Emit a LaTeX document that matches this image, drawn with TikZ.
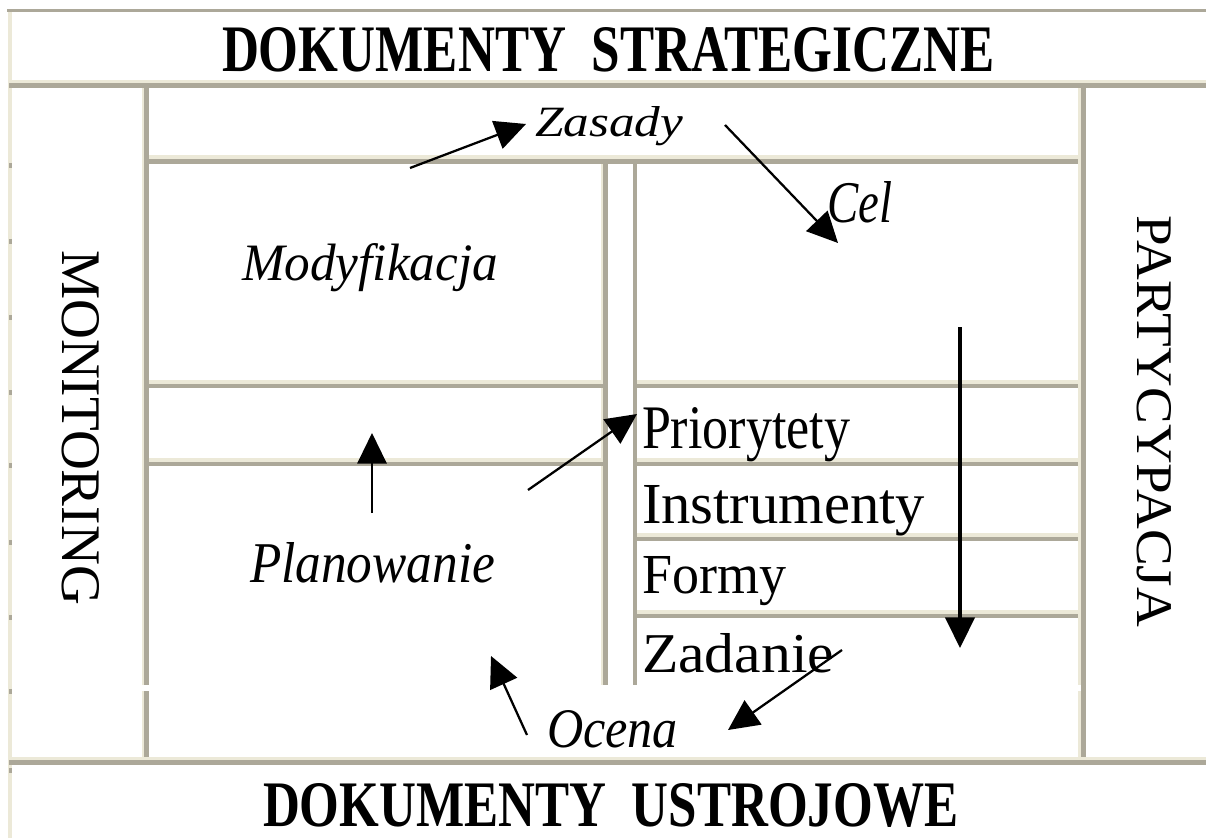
\documentclass[tikz,border=0pt]{standalone}
\usepackage{fontspec}
\setmainfont{Liberation Serif}
\usepackage{graphicx}
\usetikzlibrary{arrows.meta}
\newlength\pxu
\setlength\pxu{0.75pt}
\newcommand\fitt[3]{\resizebox{#1\pxu}{#2\pxu}{#3}}
\definecolor{bgrey}{HTML}{ACA899}
\definecolor{bcream}{HTML}{ECE9D8}
\tikzset{
  lbl/.style={anchor=base west, inner sep=0pt, outer sep=0pt},
  vlbl/.style={lbl, rotate=-90},
  arr/.style={-{Triangle[length=23pt,width=22pt]}, line width=1.7pt, black},
  varr/.style={arr, line width=2.6pt},
  gband/.style={fill=bgrey},
  cband/.style={fill=bcream}
}
\begin{document}
\begin{tikzpicture}[x=0.75pt,y=-0.75pt]
\fill[white] (0,0) rectangle (1206,838);
\useasboundingbox (0,0) rectangle (1206,838);
% outer left border
\fill[cband] (8,9) rectangle (12,838);
\foreach \yy in {163,239,315,390,463,540,615,689,768}{
  \fill[gband] (9,\yy) rectangle (12,\yy+5);
}
% top border
\fill[gband] (7,9) rectangle (1206,12);
% below header
\fill[cband] (9,80) rectangle (1206,83);
\fill[gband] (9,83) rectangle (1206,88);
% bottom separator
\fill[cband] (9,757) rectangle (1206,760);
\fill[gband] (9,760) rectangle (1206,765);
% inner left vertical
\fill[cband] (142,88) rectangle (143.5,685);
\fill[gband] (143.5,88) rectangle (149,685);
\fill[cband] (142,691) rectangle (143.5,757);
\fill[gband] (143.5,691) rectangle (149,757);
% inner right vertical
\fill[cband] (1078,88) rectangle (1081,685);
\fill[cband] (1078,691) rectangle (1081,757);
\fill[gband] (1081,88) rectangle (1086,757);
% below Zasady row
\fill[cband] (149,155) rectangle (1078,159);
\fill[gband] (149,159) rectangle (1078,164);
% middle column
\fill[cband] (601,164) rectangle (603,685);
\fill[gband] (603,164) rectangle (608,685);
\fill[gband] (633,164) rectangle (637,685);
% left rows
\fill[cband] (149,380) rectangle (603,384);
\fill[gband] (149,384) rectangle (603,388);
\fill[cband] (149,458) rectangle (603,462);
\fill[gband] (149,462) rectangle (603,466);
% right rows
\foreach \yy in {380,458,533,610}{
  \fill[cband] (637,\yy) rectangle (1078,\yy+4);
  \fill[gband] (637,\yy+4) rectangle (1078,\yy+8);
}
% headings
\node[lbl] (ds) at (222,72) {\fitt{773}{44}{\bfseries DOKUMENTY\ \ STRATEGICZNE}};
\node[lbl] (du) at (263,826) {\fitt{695}{43}{\bfseries DOKUMENTY\ \ USTROJOWE}};
\node[vlbl] (mon) at (62,250) {\fitt{355}{37}{MONITORING}};
\node[vlbl] (par) at (1137,215) {\fitt{412}{34}{PARTYCYPACJA}};
% italic labels
\node[lbl] (zas) at (535,137) {\fitt{148}{30}{\itshape Zasady}};
\node[lbl] (cel) at (827,223) {\fitt{65}{41}{\itshape Cel}};
\node[lbl] (mod) at (242,280) {\fitt{256}{37}{\itshape Modyfikacja}};
\node[lbl] (pla) at (250,582) {\fitt{245}{40}{\itshape Planowanie}};
\node[lbl] (oce) at (547,747) {\fitt{131}{37}{\itshape Ocena}};
% upright labels
\node[lbl] (pri) at (642,448) {\fitt{208}{41}{Priorytety}};
\node[lbl] (ins) at (642,523) {\fitt{283}{38}{Instrumenty}};
\node[lbl] (for) at (642,593) {\fitt{144}{37}{Formy}};
\node[lbl] (zad) at (642,672) {\fitt{192}{39}{Zadanie}};
% arrow end points
\coordinate (za1) at (410,168);
\coordinate (za2) at (526,124);
\coordinate (ce1) at (725,125);
\coordinate (ce2) at (838,243);
\coordinate (pl1) at (372,513);
\coordinate (pl2) at (372,433);
\coordinate (pr1) at (528,490);
\coordinate (pr2) at (637,414);
\coordinate (ve1) at (960,327);
\coordinate (ve2) at (960,648);
\coordinate (zd1) at (842,650);
\coordinate (zd2) at (728,730);
\coordinate (oc1) at (527,735);
\coordinate (oc2) at (491,656);
\draw[arr] (za1) -- (za2);
\draw[arr] (ce1) -- (ce2);
\draw[arr] (pl1) -- (pl2);
\draw[arr] (pr1) -- (pr2);
\draw[varr] (ve1) -- (ve2);
\draw[arr] (zd1) -- (zd2);
\draw[arr] (oc1) -- (oc2);
\end{tikzpicture}
\end{document}
